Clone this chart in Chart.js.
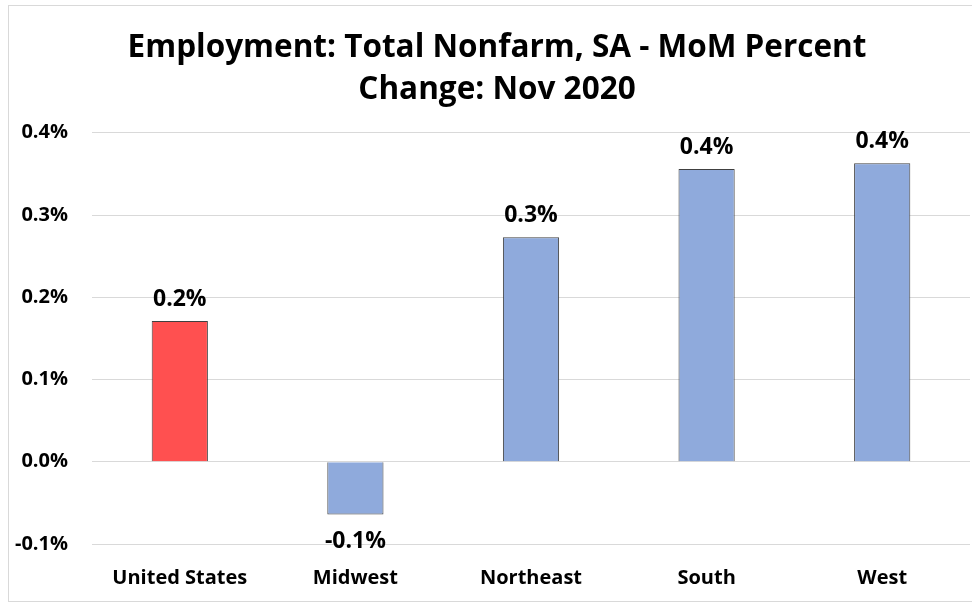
<!DOCTYPE html>
<html>
<head>
<meta charset="utf-8">
<script src="https://cdn.jsdelivr.net/npm/chart.js@4/dist/chart.umd.min.js"></script>
<style>
    body { margin: 0; background: #fff; overflow: hidden; }
    #wrap { position: relative; width: 972px; height: 605px; overflow: hidden; }
    #frame { position: absolute; left: 8px; top: 5px; width: 980px; height: 597px; border: 1px solid #d9d9d9; box-sizing: border-box; pointer-events: none; }
</style>
</head>
<body>
<div id="wrap">
    <canvas id="chart" width="972" height="605"></canvas>
    <div id="frame"></div>
</div>
<script>
const regions = ['United States', 'Midwest', 'Northeast', 'South', 'West']
const momChange = [0.171, -0.064, 0.273, 0.356, 0.363]
const barColors = ['#ff5050', '#8faadc', '#8faadc', '#8faadc', '#8faadc']
const titleLines = ['Employment: Total Nonfarm, SA - MoM Percent', 'Change: Nov 2020']

const fontName = 'Open Sans'

// value labels above / below each bar
const barLabels = {
    id: 'barLabels',
    afterDatasetsDraw(chart) {
        const ctx = chart.ctx
        const meta = chart.getDatasetMeta(0)
        ctx.save()
        ctx.font = `bold 23px "${fontName}"`
        ctx.fillStyle = '#000'
        ctx.textAlign = 'center'
        ctx.textBaseline = 'middle'
        meta.data.forEach((bar, i) => {
            const v = momChange[i]
            const text = v.toFixed(1) + '%'
            if (v >= 0)
                ctx.fillText(text, bar.x, bar.y - 22)
            else
                ctx.fillText(text, bar.x, bar.y + 27)
        })
        ctx.restore()
    }
}

// title is centred on the framed box, not on the canvas
const titleShift = {
    id: 'titleShift',
    afterLayout(chart) {
        if (chart.titleBlock)
            chart.titleBlock.left = 24
    }
}

const ctx = document.getElementById('chart').getContext('2d')
const chart = new Chart(ctx, {
    type: 'bar',
    data: {
        labels: regions,
        datasets: [{
            data: momChange,
            backgroundColor: barColors,
            borderColor: '#404040',
            borderWidth: 1,
            categoryPercentage: 1,
            barPercentage: 0.32
        }]
    },
    options: {
        responsive: false,
        animation: false,
        layout: {
            padding: { left: 0, right: 2, top: 0, bottom: 0 }
        },
        plugins: {
            legend: { display: false },
            tooltip: { enabled: false },
            title: {
                display: true,
                text: titleLines,
                color: '#000',
                font: { family: fontName, size: 31.5, weight: 'bold', lineHeight: 1.33 },
                padding: { top: 27, bottom: 22 }
            }
        },
        scales: {
            x: {
                grid: { display: false },
                border: { display: false },
                ticks: {
                    color: '#000',
                    padding: 14,
                    font: { family: fontName, size: 20, weight: 'bold' }
                },
                afterFit: (scale) => { scale.height = 61 }
            },
            y: {
                min: -0.1,
                max: 0.4,
                grid: { color: '#d9d9d9', lineWidth: 1, drawTicks: false },
                border: { display: false },
                ticks: {
                    stepSize: 0.1,
                    color: '#000',
                    padding: 24,
                    font: { family: fontName, size: 20, weight: 'bold' },
                    callback: (v) => v.toFixed(1) + '%'
                },
                afterFit: (scale) => { scale.width = 92 }
            }
        }
    },
    plugins: [barLabels, titleShift]
})
</script>
</body>
</html>
